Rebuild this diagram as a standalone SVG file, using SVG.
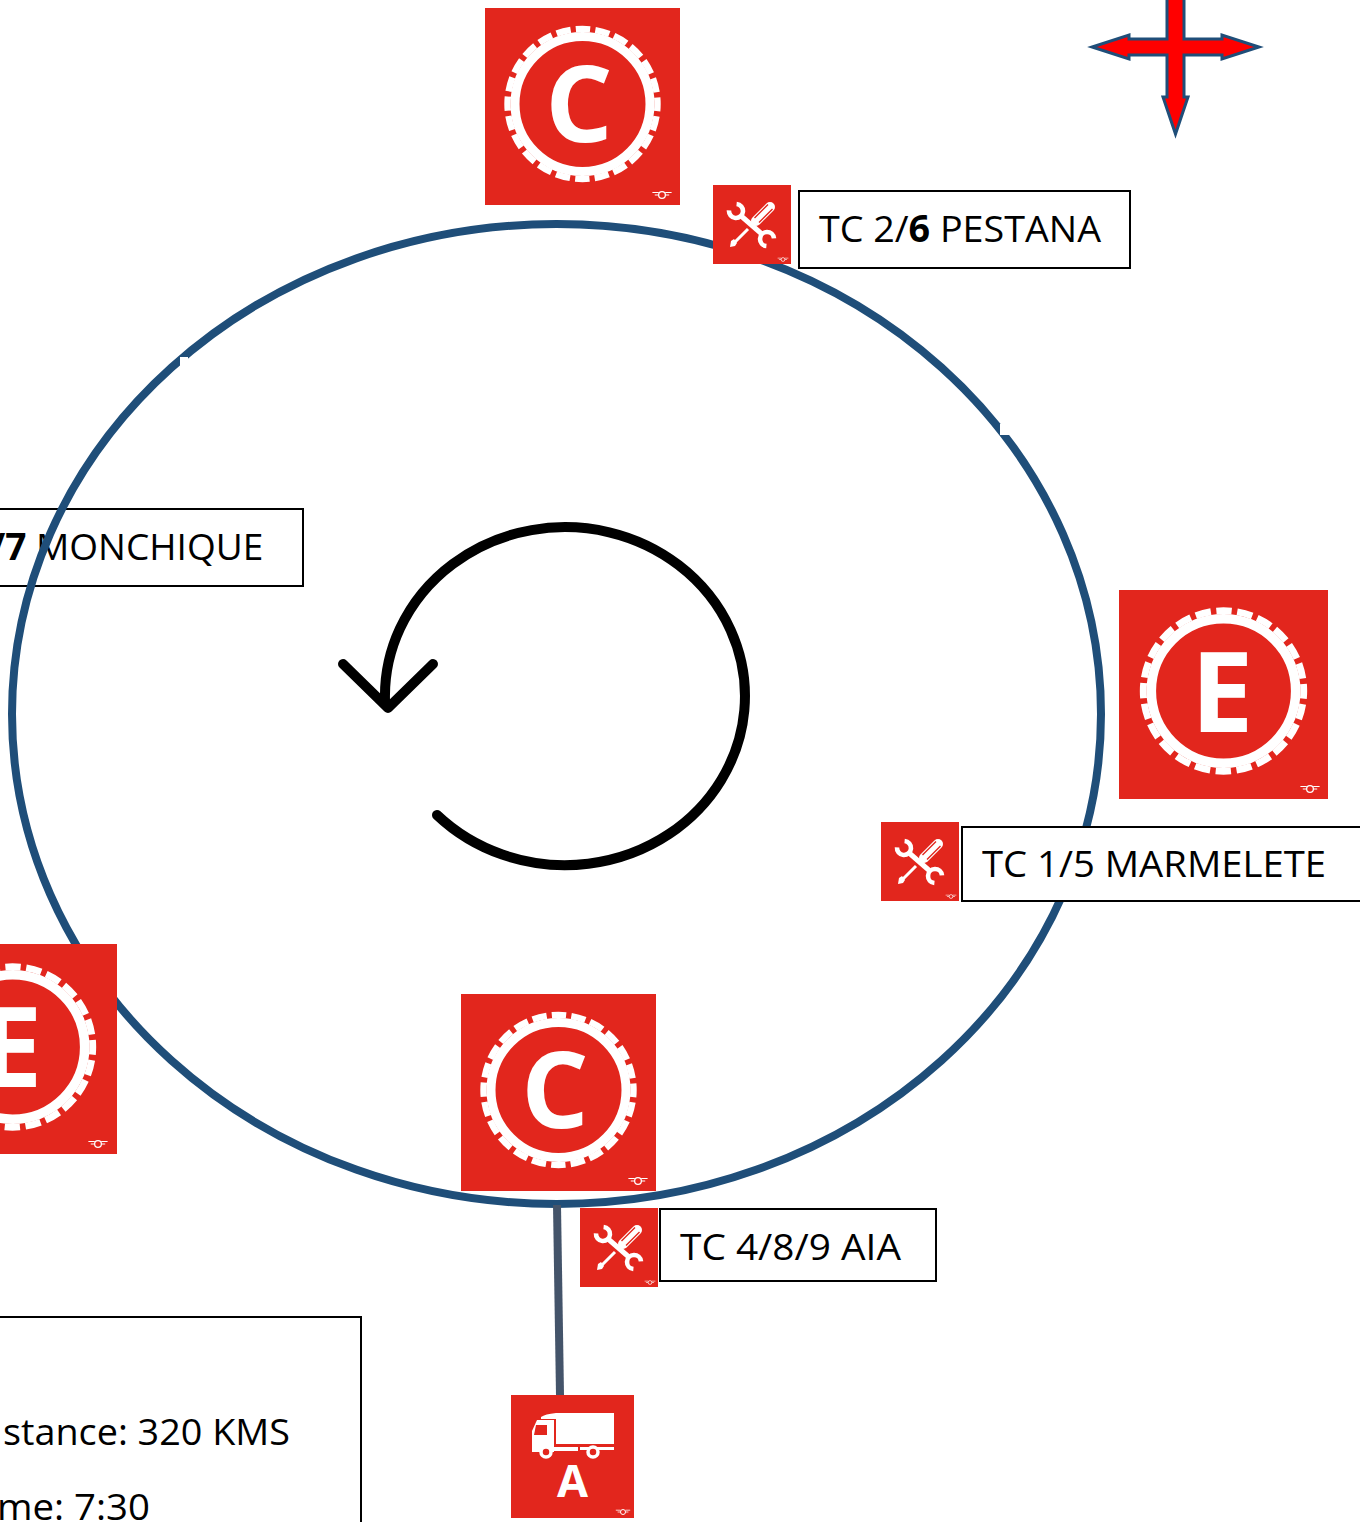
<svg xmlns="http://www.w3.org/2000/svg" xmlns:xlink="http://www.w3.org/1999/xlink" width="1360" height="1522" viewBox="0 0 1360 1522">
<style>
.red{fill:#e2261d}
.box{fill:#fff;stroke:#000;stroke-width:2}
.lbl{font-family:"Open Sans","Liberation Sans",sans-serif;font-size:37px;fill:#000}
.b{font-weight:700}
.sign{font-family:"Open Sans","Liberation Sans",sans-serif;font-weight:700;fill:#fff;text-anchor:middle}
.wh{fill:none;stroke:#fff}
</style>
<defs>
<g id="gear">
<circle r="67.5" class="wh" stroke-width="9"/>
<circle r="75" class="wh" stroke-width="6.4" stroke-dasharray="14.5 5.13" stroke-dashoffset="7.25"/>
</g>
<g id="logo">
<path d="M-12,-3 H-4 M4,-3 H12 M-9,0 H-4 M4,0 H9" stroke="#fff" stroke-width="1.3" fill="none"/>
<circle cx="0" cy="0" r="4.2" fill="none" stroke="#fff" stroke-width="1.6"/>
</g>
<symbol id="tools" viewBox="0 0 78 79" width="78" height="79" overflow="visible">
<rect width="78" height="79" class="red"/>
<path d="M27,30 L50,50" stroke="#fff" stroke-width="5" fill="none"/>
<path d="M23.6,19 A7,7 0 1 1 16,25.4 M53.4,61 A7,7 0 1 1 61,53.4" stroke="#fff" stroke-width="4.6" fill="none"/>
<path d="M20,59 L35,44" stroke="#fff" stroke-width="3" fill="none"/>
<path d="M17,62 L18,56 L21,54 L24,58 L22,61Z" fill="#fff"/>
<path d="M43,36 L57,22" stroke="#fff" stroke-width="10" stroke-linecap="round" fill="none"/>
<path d="M41.5,33 L55,19.5 M46,37.5 L59.5,24" stroke="#e2261d" stroke-width="1.4" fill="none"/>
<use xlink:href="#logo" href="#logo" transform="translate(70,74.5) scale(.45)"/>
</symbol>
<symbol id="truck" viewBox="0 0 123 123" width="123" height="123">
<rect width="123" height="123" class="red"/>
<path d="M30,22 Q34,19 45,18 H103 V49 H45 V24 H30Z" fill="#fff"/>
<path d="M26,25 H43 V57 H21 V36Z" fill="#fff"/>
<path d="M43,52 H67 V56 H43Z M69,52 H103 V55 H69Z" fill="#fff"/>
<path d="M25,30 H36 V40 H23Z" class="red"/>
<circle cx="35" cy="57" r="5" fill="#e2261d" stroke="#fff" stroke-width="3.5"/>
<circle cx="82" cy="57" r="5" fill="#e2261d" stroke="#fff" stroke-width="3.5"/>
<text x="61.5" y="102" class="sign" font-size="45">A</text>
<use xlink:href="#logo" href="#logo" transform="translate(112,117) scale(.6)"/>
</symbol>
</defs>
<rect width="1360" height="1522" fill="#fff"/>

<g id="node-monchique">
<rect x="-10" y="509" width="313" height="77" class="box"/>
<text x="-10" y="560" class="lbl"><tspan class="b">/7</tspan> MONCHIQUE</text>
</g>

<g id="connectors">
<ellipse cx="556.5" cy="714" rx="544.5" ry="490" fill="none" stroke="#1f4e79" stroke-width="8"/>
<rect x="180" y="357" width="8" height="10" fill="#fff"/>
<rect x="1000" y="424" width="11" height="11" fill="#fff"/>
<path d="M557,1205 L560,1395" fill="none" stroke="#44546a" stroke-width="8"/>
</g>

<g id="node-rotation" fill="none" stroke="#000" stroke-width="10" stroke-linecap="round" stroke-linejoin="round">
<path d="M437,815 A180,169 0 1 0 385,700"/>
<path d="M343,664 L388,708 L433,664"/>
</g>

<g id="node-compass">
<path d="M1167,-3 H1184 V39 H1222 V35 L1259,47 L1222,59 V55 H1184 V97 H1188 L1175.5,134 L1163,97 H1167 V55 H1129 V59 L1092,47 L1129,35 V39 H1167Z" fill="#f00" stroke="#1f4e79" stroke-width="3"/>
</g>

<g id="node-c-top">
<rect x="485" y="8" width="195" height="197" class="red"/>
<use xlink:href="#gear" href="#gear" x="582.5" y="104"/>
<text x="579" y="142" class="sign" font-size="106">C</text>
<use xlink:href="#logo" href="#logo" transform="translate(662,195) scale(.8)"/>
</g>

<g id="node-tc-2-6">
<use xlink:href="#tools" href="#tools" x="713" y="185"/>
<rect x="799" y="191" width="331" height="77" class="box"/>
<text x="819" y="242" class="lbl" textLength="282" lengthAdjust="spacingAndGlyphs">TC 2/<tspan class="b">6</tspan> PESTANA</text>
</g>

<g id="node-e-right">
<rect x="1119" y="590" width="209" height="209" class="red"/>
<use xlink:href="#gear" href="#gear" transform="translate(1223.5,691) scale(1.07)"/>
<text x="1222" y="732" class="sign" font-size="112">E</text>
<use xlink:href="#logo" href="#logo" transform="translate(1310,789) scale(.8)"/>
</g>

<g id="node-tc-1-5">
<use xlink:href="#tools" href="#tools" x="881" y="822"/>
<rect x="962" y="827" width="410" height="74" class="box"/>
<text x="982" y="877" class="lbl" textLength="344" lengthAdjust="spacingAndGlyphs">TC 1/5 MARMELETE</text>
</g>

<g id="node-e-left">
<rect x="-92" y="944" width="209" height="210" class="red"/>
<use xlink:href="#gear" href="#gear" transform="translate(12.5,1047) scale(1.07)"/>
<text x="11" y="1087" class="sign" font-size="112">E</text>
<use xlink:href="#logo" href="#logo" transform="translate(98,1144) scale(.8)"/>
</g>

<g id="node-c-bottom">
<rect x="461" y="994" width="195" height="197" class="red"/>
<use xlink:href="#gear" href="#gear" x="558.5" y="1090"/>
<text x="555" y="1128" class="sign" font-size="106">C</text>
<use xlink:href="#logo" href="#logo" transform="translate(638,1181) scale(.8)"/>
</g>

<g id="node-tc-4-8-9">
<use xlink:href="#tools" href="#tools" x="580" y="1208"/>
<rect x="660" y="1209" width="276" height="72" class="box"/>
<text x="680" y="1260" class="lbl" textLength="221" lengthAdjust="spacingAndGlyphs">TC 4/8/9 AIA</text>
</g>

<g id="node-a">
<use xlink:href="#truck" href="#truck" x="511" y="1395"/>
</g>

<g id="node-summary">
<rect x="-10" y="1317" width="371" height="230" class="box"/>
<text x="3" y="1445" class="lbl" textLength="287" lengthAdjust="spacingAndGlyphs">stance: 320 KMS</text>
<text x="-3" y="1520" class="lbl" textLength="153" lengthAdjust="spacingAndGlyphs">me: 7:30</text>
</g>
</svg>
